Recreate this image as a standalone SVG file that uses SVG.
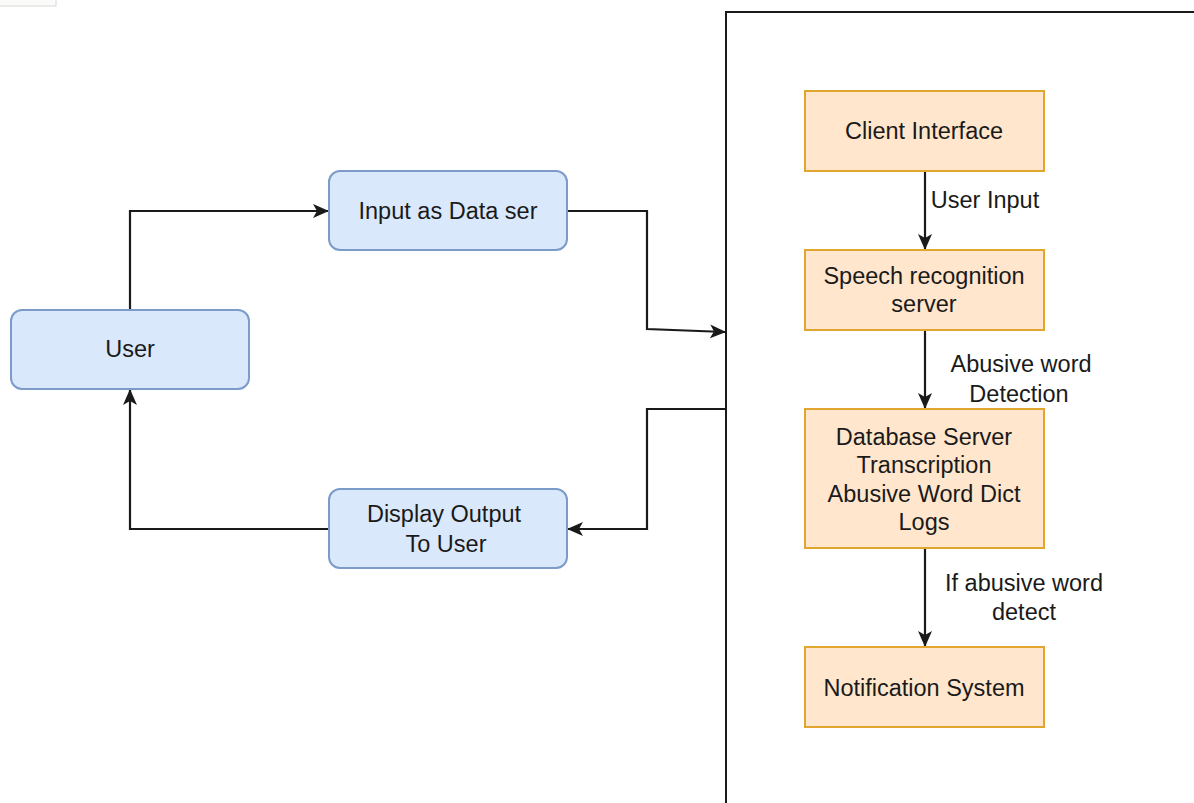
<svg xmlns="http://www.w3.org/2000/svg" width="1194" height="803" viewBox="0 0 1194 803">
  <style>
    .blue { fill: #dae8fc; stroke: #7b9bc9; stroke-width: 2; }
    .orange { fill: #ffe6cc; stroke: #e0a630; stroke-width: 2; }
    .lbl { font-family: "Liberation Sans", Arial, sans-serif; font-size: 23.5px; fill: #1a1a1a; text-anchor: middle; dominant-baseline: central; }
    .edge { fill: none; stroke: #1a1a1a; stroke-width: 2.2; }
  </style>
  <defs>
    <marker id="arrow" viewBox="0 0 16 14" refX="15" refY="7" markerWidth="16" markerHeight="14" markerUnits="userSpaceOnUse" orient="auto">
      <path d="M0,0 L16,7 L0,14 L4,7 Z" fill="#1a1a1a"/>
    </marker>
  </defs>
  <rect width="1194" height="803" fill="#ffffff"/>
  <rect x="-1" y="-1" width="57" height="7" fill="#fbfbf9" stroke="#d8d8d8" stroke-width="1"/>

  <!-- system boundary -->
  <path d="M726,803 L726,12 L1194,12" fill="none" stroke="#1a1a1a" stroke-width="2"/>

  <g id="connectors">
    <path class="edge" d="M130,310 L130,211 L328,211" marker-end="url(#arrow)"/>
    <path class="edge" d="M567,211 L647,211 L647,329 L725,332" marker-end="url(#arrow)"/>
    <path class="edge" d="M726,409 L647,409 L647,529 L568,529" marker-end="url(#arrow)"/>
    <path class="edge" d="M329,529 L130,529 L130,390" marker-end="url(#arrow)"/>
    <path class="edge" d="M925,171 L925,249" marker-end="url(#arrow)"/>
    <path class="edge" d="M925,330 L925,408" marker-end="url(#arrow)"/>
    <path class="edge" d="M925,548 L925,646" marker-end="url(#arrow)"/>
    <text class="lbl" x="985" y="200">User Input</text>
    <text class="lbl" x="1021" y="364">Abusive word</text>
    <text class="lbl" x="1019" y="394">Detection</text>
    <text class="lbl" x="1024" y="583">If abusive word</text>
    <text class="lbl" x="1024" y="612">detect</text>
  </g>

  <g id="user">
    <rect class="blue" x="11" y="310" width="238" height="79" rx="11"/>
    <text class="lbl" x="130" y="349">User</text>
  </g>
  <g id="input">
    <rect class="blue" x="329" y="171" width="238" height="79" rx="11"/>
    <text class="lbl" x="448" y="211">Input as Data ser</text>
  </g>
  <g id="display">
    <rect class="blue" x="329" y="489" width="238" height="79" rx="11"/>
    <text class="lbl" x="444" y="514">Display Output</text>
    <text class="lbl" x="446" y="544">To User</text>
  </g>

  <g id="client">
    <rect class="orange" x="805" y="91" width="239" height="80"/>
    <text class="lbl" x="924" y="131">Client Interface</text>
  </g>
  <g id="speech">
    <rect class="orange" x="805" y="250" width="239" height="80"/>
    <text class="lbl" x="924" y="276">Speech recognition</text>
    <text class="lbl" x="924" y="304">server</text>
  </g>
  <g id="database">
    <rect class="orange" x="805" y="409" width="239" height="139"/>
    <text class="lbl" x="924" y="437">Database Server</text>
    <text class="lbl" x="924" y="465">Transcription</text>
    <text class="lbl" x="924" y="494">Abusive Word Dict</text>
    <text class="lbl" x="924" y="522">Logs</text>
  </g>
  <g id="notification">
    <rect class="orange" x="805" y="647" width="239" height="80"/>
    <text class="lbl" x="924" y="688">Notification System</text>
  </g>
</svg>
